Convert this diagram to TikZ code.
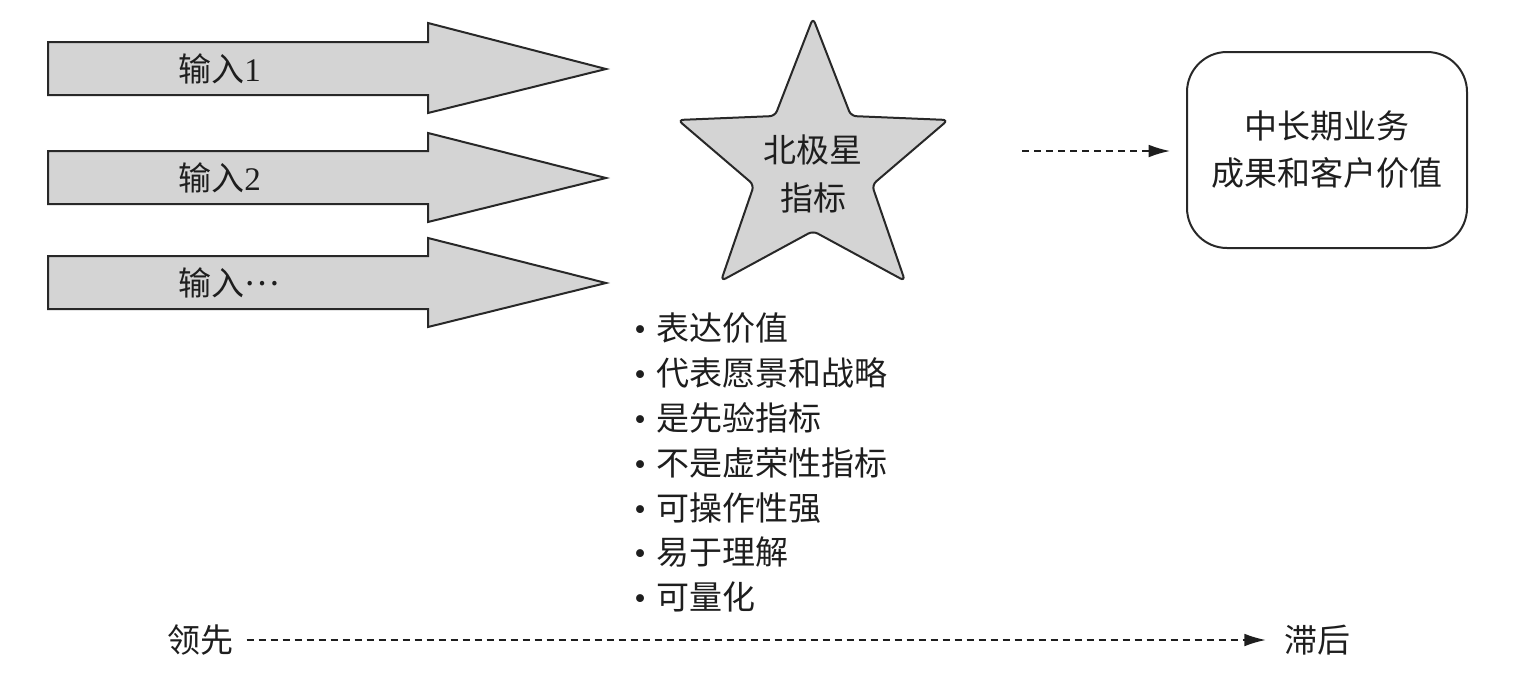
\documentclass[tikz,border=0pt]{standalone}
\usepackage{fontspec}
\setmainfont{Liberation Serif}
\newfontfamily\cjk{Noto Sans CJK SC}
\usetikzlibrary{arrows.meta}
\definecolor{shapegray}{RGB}{212,212,212}
\definecolor{edgegray}{RGB}{40,40,40}
\definecolor{inkc}{RGB}{30,30,30}
\newcommand\bul{\makebox[17pt][l]{•}}
\begin{document}
\begin{tikzpicture}[x=0.75pt,y=-0.75pt,
  shapestyle/.style={fill=shapegray,draw=edgegray,line width=1.5pt,line join=miter},
  lbl/.style={font=\cjk\fontsize{24.75}{36}\selectfont,text=inkc,inner sep=0pt},
  boxlbl/.style={font=\cjk\fontsize{24.75}{35.25}\selectfont,text=inkc,align=center},
  dashedlink/.style={draw=inkc,line width=1.1pt,dash pattern=on 5.5pt off 3.5pt,-{Latex[length=16pt,width=9.5pt]}}]
\useasboundingbox (0,0) rectangle (1517,678);
% input block arrows
\draw[shapestyle] (48,42) -- (428,42) -- (428,23) -- (606,69) -- (428,113) -- (428,95) -- (48,95) -- cycle;
\draw[shapestyle] (48,151) -- (428,151) -- (428,133) -- (606,178) -- (428,222) -- (428,204) -- (48,204) -- cycle;
\draw[shapestyle] (48,256) -- (428,256) -- (428,238) -- (606,283) -- (428,327) -- (428,309) -- (48,309) -- cycle;
\node[lbl,anchor=west] (in1) at (178,69) {输入\rmfamily 1};
\node[lbl,anchor=west] (in2) at (178,178) {输入\rmfamily 2};
\node[lbl,anchor=west] (in3) at (178,283) {输入\raisebox{0.3em}{…}};
% star
\draw[shapestyle,rounded corners=4pt] (813,18) -- (851,116) -- (948,120) -- (872,185) -- (905,281) -- (813,231) -- (721,281) -- (754,185) -- (678,120) -- (775,116) -- cycle;
\node[lbl,align=center] (star) at (813,174) {北极星\\指标};
% outcome box
\node[boxlbl,draw=edgegray,line width=1.5pt,rounded corners=30pt,minimum width=210pt,minimum height=147pt] (goal) at (1327,150) {中长期业务\\成果和客户价值};
\coordinate (d1) at (1022,151);
\coordinate (d2) at (1170,151);
\draw[dashedlink] (d1) -- (d2);
% list
\foreach \t [count=\i] in {表达价值,代表愿景和战略,是先验指标,不是虚荣性指标,可操作性强,易于理解,可量化}{
  \node[lbl,anchor=west] (l\i) at (634,{328+44.9*(\i-1)}) {{\rmfamily\bul}\t};
}
% bottom axis
\node[lbl] (lead) at (200,640) {领先};
\node[lbl] (lag) at (1317,640) {滞后};
\draw[dashedlink,shorten <=10pt,shorten >=13.5pt] (lead) -- (lag);
\end{tikzpicture}
\end{document}
